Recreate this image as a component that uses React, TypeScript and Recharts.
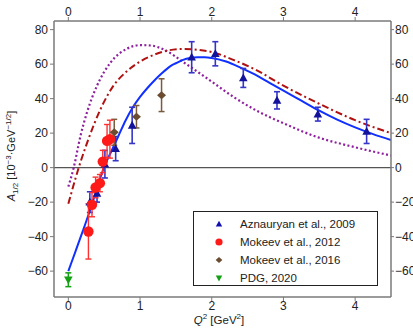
import React from "react";
import {
  ComposedChart, Line, Scatter, XAxis, YAxis, ReferenceLine, ErrorBar,
} from "recharts";

const FONT = '"Liberation Sans", Arial, sans-serif';
const TICK = "#222";
const FRAME = "#7a7a7a";

// model curves (Q^2 in GeV^2, A1/2 in 10^-3 GeV^-1/2)
const blueQ = [0, 0.1, 0.2, 0.3, 0.4, 0.5, 0.6, 0.7, 0.8, 0.9, 1.0, 1.1, 1.2, 1.3, 1.43, 1.5, 1.6, 1.7, 1.8, 1.9, 2.0, 2.2, 2.4, 2.6, 2.8, 3.0, 3.25, 3.5, 3.75, 4.0, 4.25, 4.5];
const blueA = [-60, -48.5, -37, -25, -12, 0.5, 9.5, 18.5, 27.5, 35, 41, 46, 50.5, 54.5, 59, 60.5, 62.5, 63.6, 64, 64, 63.6, 61.5, 58, 54, 49.3, 44.6, 38.8, 33, 27.8, 23.3, 19.4, 16];

const redQ = [0, 0.145, 0.28, 0.45, 0.63, 0.82, 1.0, 1.2, 1.4, 1.6, 1.8, 2.0, 2.3, 2.6, 3.0, 3.5, 4.0, 4.5];
const redA = [-21, 0, 16.5, 34, 47.5, 56, 61.5, 65.5, 68, 68.8, 68.3, 67, 62.5, 57, 47.5, 37, 27.5, 20];

const purpleQ = [0, 0.075, 0.17, 0.26, 0.4, 0.59, 0.82, 1.0, 1.15, 1.33, 1.61, 1.94, 2.31, 2.65, 3.0, 3.48, 4.0, 4.5];
const purpleA = [-11, 0, 18.5, 32, 47.5, 61, 69, 71, 70.8, 68.5, 61, 51.6, 40.8, 32.5, 25.7, 17.6, 11.8, 7];

// data points
const aznQ = [0.30, 0.40, 0.51, 0.66, 0.89, 1.72, 2.05, 2.44, 2.91, 3.48, 4.16];
const aznA = [-20, -15, 2, 11, 24.5, 64, 66, 52, 39, 31, 21];
const aznErr = [6, 5, 8, 7, 10.5, 9, 7, 5.5, 5, 4, 7];

const mok12Q = [0.28, 0.33, 0.38, 0.44, 0.48, 0.54, 0.58];
const mok12A = [-37, -21.5, -11.5, -9, 3.5, 15.5, 16.5];
const mok12Err = [16, 7, 6, 5, 6.5, 9.5, 11];

const mok16Q = [0.64, 0.95, 1.30];
const mok16A = [20.5, 29.5, 42];
const mok16Err = [7.5, 6.5, 9.5];

const pdgQ = [0];
const pdgA = [-65];
const pdgErr = [4];

const xTicks = [0, 1, 2, 3, 4];
const yTicks = [-60, -40, -20, 0, 20, 40, 60, 80];

const curve = (q: number[], a: number[]) => q.map((x, i) => ({ x, y: a[i] }));
const points = (q: number[], a: number[], e: number[]) =>
  q.map((x, i) => ({ x, y: a[i], err: e[i] }));

const fmt = (v: number) => (v < 0 ? `\u2212${-v}` : `${v}`);

const C_AZN = "#12129a";
const C_AZN_ERR = "#3535c8";
const C_M12 = "#ff1a1a";
const C_M16 = "#6b4c30";
const C_PDG = "#14a014";

function UpTri({ cx, cy, color, s = 1 }: any) {
  return <path d={`M${cx},${cy - 4.5 * s} L${cx + 4.3 * s},${cy + 3.3 * s} L${cx - 4.3 * s},${cy + 3.3 * s} Z`} fill={color} />;
}
function DownTri({ cx, cy, color, s = 1 }: any) {
  return <path d={`M${cx},${cy + 4.5 * s} L${cx + 4.3 * s},${cy - 3.3 * s} L${cx - 4.3 * s},${cy - 3.3 * s} Z`} fill={color} />;
}
function Diamond({ cx, cy, color, s = 1 }: any) {
  return <path d={`M${cx},${cy - 4 * s} L${cx + 4.5 * s},${cy} L${cx},${cy + 4 * s} L${cx - 4.5 * s},${cy} Z`} fill={color} />;
}
function Dot({ cx, cy, color, r = 5.2 }: any) {
  return <circle cx={cx} cy={cy} r={r} fill={color} />;
}

const legendRows = [
  { label: "Aznauryan et al., 2009", mark: (c: number) => <UpTri cx={c} cy={c} s={0.75} color="#1010b0" /> },
  { label: "Mokeev et al., 2012", mark: (c: number) => <Dot cx={c} cy={c} r={3.6} color={C_M12} /> },
  { label: "Mokeev et al., 2016", mark: (c: number) => <Diamond cx={c} cy={c} s={0.75} color={C_M16} /> },
  { label: "PDG, 2020", mark: (c: number) => <DownTri cx={c} cy={c} s={0.75} color={C_PDG} /> },
];

export default function App() {
  const tickStyle = { fill: TICK, fontSize: 12, fontFamily: FONT };
  return (
    <div style={{ position: "absolute", left: 0, top: 0, width: 413, height: 328, background: "#fff" }}>
      <ComposedChart
        width={413}
        height={328}
        margin={{ top: 5, right: 2, bottom: 11, left: 14 }}
      >
        <XAxis
          xAxisId="b" type="number" dataKey="x" domain={[-0.2, 4.5]} ticks={xTicks}
          orientation="bottom" height={20} tick={tickStyle} tickSize={4} tickMargin={0}
          axisLine={{ stroke: FRAME, strokeWidth: 1.5 }} tickLine={{ stroke: FRAME }}
          allowDataOverflow
        />
        <XAxis
          xAxisId="t" type="number" dataKey="x" domain={[-0.2, 4.5]} ticks={xTicks}
          orientation="top" height={16} tick={tickStyle} tickSize={4} tickMargin={1}
          axisLine={{ stroke: FRAME, strokeWidth: 1.5 }} tickLine={{ stroke: FRAME }}
          allowDataOverflow
        />
        <YAxis
          yAxisId="l" type="number" dataKey="y" domain={[-75, 85]} ticks={yTicks}
          orientation="left" width={40} tick={tickStyle} tickSize={4} tickMargin={2}
          tickFormatter={fmt}
          axisLine={{ stroke: FRAME, strokeWidth: 1.5 }} tickLine={{ stroke: FRAME }}
          allowDataOverflow
        />
        <YAxis
          yAxisId="r" type="number" dataKey="y" domain={[-75, 85]} ticks={yTicks}
          orientation="right" width={20} tick={tickStyle} tickSize={3} tickMargin={1}
          tickFormatter={fmt}
          axisLine={{ stroke: FRAME, strokeWidth: 1.5 }} tickLine={{ stroke: FRAME }}
          allowDataOverflow
        />
        <ReferenceLine xAxisId="b" yAxisId="l" y={0} stroke="#555" strokeWidth={1.2} />

        <Line
          xAxisId="b" yAxisId="l" data={curve(purpleQ, purpleA)} dataKey="y" type="monotone"
          stroke="#8e1f9e" strokeWidth={2.2} strokeDasharray="2 2.4" dot={false} activeDot={false}
          isAnimationActive={false}
        />
        <Line
          xAxisId="b" yAxisId="l" data={curve(redQ, redA)} dataKey="y" type="monotone"
          stroke="#b01212" strokeWidth={2} strokeDasharray="7 3 2 3" dot={false} activeDot={false}
          isAnimationActive={false}
        />
        <Line
          xAxisId="b" yAxisId="l" data={curve(blueQ, blueA)} dataKey="y" type="monotone"
          stroke="#1030ff" strokeWidth={2} dot={false} activeDot={false}
          isAnimationActive={false}
        />

        <Scatter
          xAxisId="b" yAxisId="l" data={points(aznQ, aznA, aznErr)} dataKey="y"
          shape={(p: any) => <UpTri cx={p.cx} cy={p.cy} color={C_AZN} />}
          isAnimationActive={false}
        >
          <ErrorBar dataKey="err" direction="y" width={3} stroke={C_AZN_ERR} strokeWidth={1.6} />
        </Scatter>
        <Scatter
          xAxisId="b" yAxisId="l" data={points(mok16Q, mok16A, mok16Err)} dataKey="y"
          shape={(p: any) => <Diamond cx={p.cx} cy={p.cy} color={C_M16} />}
          isAnimationActive={false}
        >
          <ErrorBar dataKey="err" direction="y" width={3} stroke="#7a5a3c" strokeWidth={1.5} />
        </Scatter>
        <Scatter
          xAxisId="b" yAxisId="l" data={points(mok12Q, mok12A, mok12Err)} dataKey="y"
          shape={(p: any) => <Dot cx={p.cx} cy={p.cy} color={C_M12} />}
          isAnimationActive={false}
        >
          <ErrorBar dataKey="err" direction="y" width={3} stroke="#ff3030" strokeWidth={1.4} />
        </Scatter>
        <Scatter
          xAxisId="b" yAxisId="l" data={points(pdgQ, pdgA, pdgErr)} dataKey="y"
          shape={(p: any) => <DownTri cx={p.cx} cy={p.cy} color={C_PDG} />}
          isAnimationActive={false}
        >
          <ErrorBar dataKey="err" direction="y" width={3} stroke={C_PDG} strokeWidth={1.5} />
        </Scatter>
      </ComposedChart>

      {/* y axis title */}
      <div
        style={{
          position: "absolute", left: 12, top: 156, transform: "translate(-50%, -50%) rotate(-90deg)",
          whiteSpace: "nowrap", fontFamily: FONT, fontSize: 11, color: "#222",
        }}
      >
        <i>A</i><sub style={{ fontSize: 8 }}>1/2</sub> [10<sup style={{ fontSize: 8 }}>{"\u22123"}</sup>{"\u00b7GeV"}<sup style={{ fontSize: 8 }}>{"\u22121/2"}</sup>]
      </div>

      {/* x axis title */}
      <div
        style={{
          position: "absolute", left: 219, top: 320, transform: "translate(-50%, -50%)",
          whiteSpace: "nowrap", fontFamily: FONT, fontSize: 11.5, color: "#222", lineHeight: "12px",
        }}
      >
        <i>Q</i><sup style={{ fontSize: 8, lineHeight: 0 }}>2</sup> [GeV<sup style={{ fontSize: 8, lineHeight: 0 }}>2</sup>]
      </div>

      {/* legend */}
      <div
        style={{
          position: "absolute", left: 193, top: 211, width: 185, height: 75, boxSizing: "border-box",
          border: "1.5px solid #222", background: "#fff", fontFamily: FONT, fontSize: 11.5, color: "#222",
        }}
      >
        {legendRows.map((r, i) => (
          <div
            key={r.label}
            style={{ position: "absolute", left: 18, top: 3 + i * 18, height: 18, display: "flex", alignItems: "center" }}
          >
            <svg width={14} height={14} style={{ marginRight: 14 }}>{r.mark(7)}</svg>
            <span>{r.label}</span>
          </div>
        ))}
      </div>
    </div>
  );
}
